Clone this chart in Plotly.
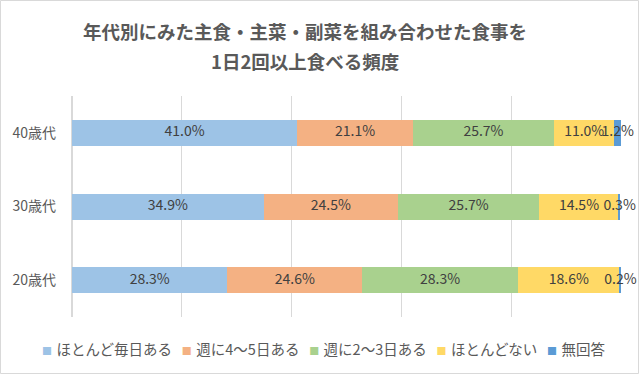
import plotly.graph_objects as go

categories = ["20歳代", "30歳代", "40歳代"]
series_names = ["ほとんど毎日ある", "週に4～5日ある", "週に2～3日ある", "ほとんどない", "無回答"]
almost_daily = [28.3, 34.9, 41.0]
w4_5 = [24.6, 24.5, 21.1]
w2_3 = [28.3, 25.7, 25.7]
rarely = [18.6, 14.5, 11.0]
no_answer = [0.2, 0.3, 1.2]
colors = ["#9DC3E6", "#F4B183", "#A9D18E", "#FFD966", "#5B9BD5"]
title_lines = ["年代別にみた主食・主菜・副菜を組み合わせた食事を", "1日2回以上食べる頻度"]

FONT = "Noto Sans CJK JP"
series = [almost_daily, w4_5, w2_3, rarely, no_answer]

fig = go.Figure()
for name, vals, c in zip(series_names, series, colors):
    fig.add_trace(go.Bar(
        y=categories, x=[v / 100 for v in vals], name=name, orientation="h",
        marker=dict(color=c, line=dict(width=0)), showlegend=False,
    ))

# data labels centered on each segment
cum = [0.0] * len(categories)
for vals in series:
    xs, txt = [], []
    for i, v in enumerate(vals):
        xs.append((cum[i] + v / 2) / 100)
        txt.append(f"{v:.1f}%")
        cum[i] += v
    fig.add_trace(go.Scatter(
        y=categories, x=xs, text=txt, mode="text", showlegend=False,
        textfont=dict(family=FONT, size=14, color="#404040"), cliponaxis=False,
        hoverinfo="skip",
    ))

L, R, T, B = 72, 19, 96, 58
W, H = 640, 375
pw, ph = W - L - R, H - T - B

fig.update_layout(
    width=W, height=H, barmode="stack", bargap=0.647,
    margin=dict(l=L, r=R, t=T, b=B, pad=0, autoexpand=False),
    paper_bgcolor="white", plot_bgcolor="white",
    font=dict(family=FONT, color="#595959", size=13),
    xaxis=dict(range=[0, 1], dtick=0.2, showticklabels=False, showgrid=True,
               gridcolor="#D9D9D9", gridwidth=1, zeroline=True, zerolinecolor="#D9D9D9",
               showline=False, fixedrange=True, automargin=False),
    yaxis=dict(categoryorder="array", categoryarray=categories, showgrid=False,
               tickfont=dict(size=14, color="#595959"), ticks="", ticklen=0,
               ticklabelstandoff=15,
               showline=False, fixedrange=True, automargin=False),
    showlegend=False,
)

# legend as a single line of text
legend_parts = []
for name, c in zip(series_names, colors):
    legend_parts.append(f'<span style="color:{c};font-size:10px">■&nbsp;&nbsp;</span>{name}')
fig.add_annotation(
    text="&nbsp;&nbsp;&nbsp;".join(legend_parts), xref="paper", yref="paper",
    x=(323 - L) / pw, y=(T + ph - 348) / ph, xanchor="center", yanchor="middle",
    showarrow=False, font=dict(family=FONT, size=14.5, color="#595959"),
)

for line, ypix in zip(title_lines, [31, 61]):
    fig.add_annotation(
        text=f"<b>{line}</b>", xref="paper", yref="paper",
        x=(305 - L) / pw, y=(T + ph - ypix) / ph, xanchor="center", yanchor="middle",
        showarrow=False, font=dict(family=FONT, size=18.5, color="#595959"),
    )

fig.add_shape(type="rect", xref="paper", yref="paper",
              x0=(-L + 0.5) / pw, x1=1 + (R - 1.5) / pw,
              y0=(-B + 1.5) / ph, y1=1 + (T - 0.5) / ph,
              line=dict(color="#D9D9D9", width=1), fillcolor="rgba(0,0,0,0)", layer="below")

fig.write_html(
    "out.html",
    config={"displayModeBar": False},
    post_script="document.body.style.margin='0';document.body.style.overflow='hidden';",
)
